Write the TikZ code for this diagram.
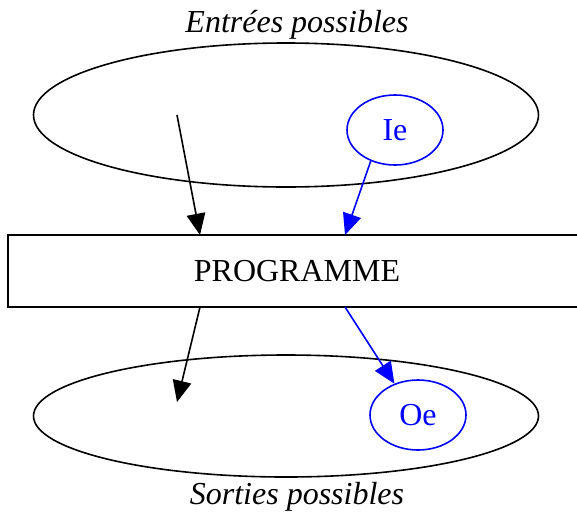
\documentclass[tikz,border=0pt]{standalone}
\usepackage{fontspec}
\setmainfont{Liberation Serif}
\usetikzlibrary{shapes.geometric,arrows.meta}
\tikzset{
  ens/.style={draw,ellipse,line width=1.2pt},
  val/.style={draw=blue,text=blue,ellipse,line width=1.2pt,minimum width=72pt,minimum height=52.5pt,inner sep=0pt},
  titre/.style={font=\fontsize{24}{28}\selectfont\itshape}
}
\begin{document}
\begin{tikzpicture}[x=0.75pt,y=-0.75pt,line width=1.2pt,>={Triangle[length=16pt,width=14pt]},font=\fontsize{24}{28}\selectfont]
	\useasboundingbox (0,0) rectangle (577,518);
	% ensembles
	\node[ens,minimum width=378.75pt,minimum height=108pt] (entrees) at (286,115) {};
	\node[ens,minimum width=378.75pt,minimum height=91.5pt] (sorties) at (286,416) {};
	\node[titre] (tin) at (297,25) {Entrées possibles};
	\node[titre] (tout) at (297,497) {Sorties possibles};
	% programme
	\node[draw,line width=1.3pt,minimum width=433.5pt,minimum height=54pt,inner sep=0pt] (prog) at (297,271) {PROGRAMME};
	% valeurs
	\node[val] (ie) at (395,130) {Ie};
	\node[val] (oe) at (418,415) {Oe};
	% fleches
	\coordinate (x1) at (177,115);
	\coordinate (x2) at (200,235);
	\coordinate (y1) at (200,307);
	\coordinate (y2) at (177,402);
	\coordinate (b1) at (345,235);
	\coordinate (b2) at (345,307);
	\draw[->] (x1) -- (x2);
	\draw[->] (y1) -- (y2);
	\draw[->,blue] (ie.232) -- (b1);
	\draw[->,blue] (b2) -- (oe.127);
\end{tikzpicture}
\end{document}
